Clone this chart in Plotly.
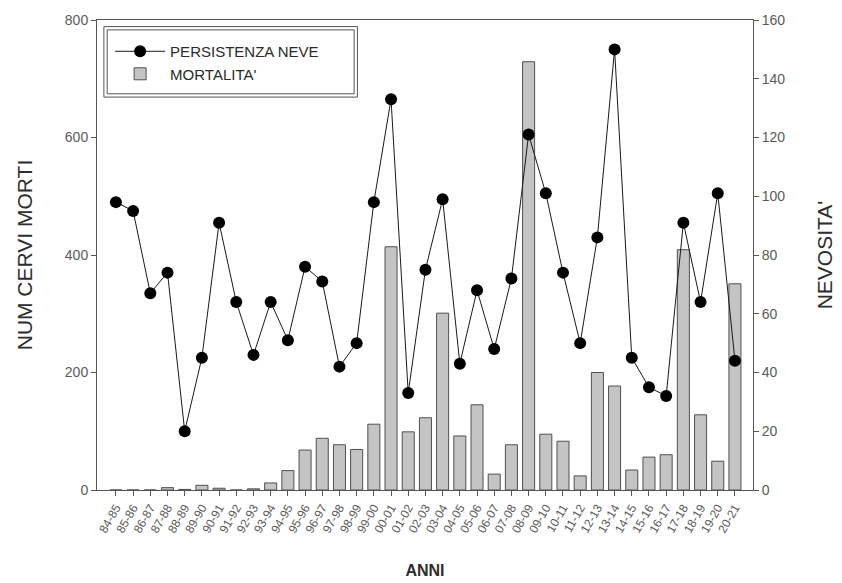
import plotly.graph_objects as go

# Seasons (winter) from 1984-85 to 2020-21
seasons = [
    "84-85", "85-86", "86-87", "87-88", "88-89", "89-90", "90-91", "91-92",
    "92-93", "93-94", "94-95", "95-96", "96-97", "97-98", "98-99", "99-00",
    "00-01", "01-02", "02-03", "03-04", "04-05", "05-06", "06-07", "07-08",
    "08-09", "09-10", "10-11", "11-12", "12-13", "13-14", "14-15", "15-16",
    "16-17", "17-18", "18-19", "19-20", "20-21",
]

# Dead deer counted each season (left axis)
mortalita = [
    0, 0, 0, 4, 1, 8, 3, 0, 2, 12, 33, 68, 88, 77, 69, 112, 414, 99, 123,
    301, 92, 145, 27, 77, 729, 95, 83, 24, 200, 177, 34, 56, 60, 409, 128,
    49, 351,
]

# Snow persistence index (right axis)
persistenza_neve = [
    98, 95, 67, 74, 20, 45, 91, 64, 46, 64, 51, 76, 71, 42, 50, 98, 133, 33,
    75, 99, 43, 68, 48, 72, 121, 101, 74, 50, 86, 150, 45, 35, 32, 91, 64,
    101, 44,
]

title_color = "#2e2e2e"
tick_color = "#5a5a5a"
axis_color = "#555555"
font_family = "Liberation Sans, Arial, sans-serif"

fig = go.Figure()

fig.add_trace(go.Bar(
    x=seasons, y=mortalita, name="MORTALITA'",
    marker=dict(color="#c4c4c4", line=dict(color="#505050", width=1)),
    width=0.7, yaxis="y",
))

fig.add_trace(go.Scatter(
    x=seasons, y=persistenza_neve, name="PERSISTENZA NEVE",
    mode="lines+markers",
    line=dict(color="#1a1a1a", width=1),
    marker=dict(color="#000000", size=12),
    yaxis="y2",
))

# Double frame around the legend
for x0, y0, x1, y1 in [(0.0105, 0.836, 0.397, 0.986), (0.0155, 0.843, 0.392, 0.979)]:
    fig.add_shape(
        type="rect", xref="paper", yref="paper",
        x0=x0, y0=y0, x1=x1, y1=y1,
        line=dict(color="#555555", width=1), fillcolor="rgba(0,0,0,0)",
        layer="above",
    )

fig.update_layout(
    width=842, height=583,
    margin=dict(l=97, r=89, t=20, b=93),
    paper_bgcolor="white", plot_bgcolor="white",
    font=dict(family=font_family, color=title_color, size=12),
    showlegend=True,
    legend=dict(
        x=0.02, y=0.968, xanchor="left", yanchor="top",
        traceorder="reversed",
        borderwidth=0,
        bgcolor="rgba(255,255,255,0)",
        font=dict(size=15, color="#2a2a2a"),
        itemwidth=50,
    ),
    xaxis=dict(
        type="category", automargin=False,
        range=[-1.1, 37.05],
        showline=True, linecolor=axis_color, linewidth=1, mirror=True,
        ticks="outside", ticklen=5, tickcolor=axis_color,
        tickangle=-60, tickfont=dict(size=12, color=tick_color),
        showgrid=False,
        title=dict(text="<b>ANNI</b>", font=dict(size=16, color=title_color), standoff=30),
    ),
    yaxis=dict(
        range=[0, 800], tickvals=[0, 200, 400, 600, 800], automargin=False,
        showline=True, linecolor=axis_color, linewidth=1,
        ticks="outside", ticklen=5, tickcolor=axis_color,
        tickfont=dict(size=14, color=tick_color),
        showgrid=False, zeroline=False,
        title=dict(text="NUM CERVI MORTI", font=dict(size=21, color=title_color), standoff=26),
    ),
    yaxis2=dict(
        range=[0, 160], tickvals=list(range(0, 161, 20)), automargin=False,
        overlaying="y", side="right",
        showline=True, linecolor=axis_color, linewidth=1,
        ticks="outside", ticklen=5, tickcolor=axis_color,
        tickfont=dict(size=14, color=tick_color),
        showgrid=False, zeroline=False,
        title=dict(text="NEVOSITA'", font=dict(size=21, color=title_color), standoff=32),
    ),
)

fig.write_html("out.html")
